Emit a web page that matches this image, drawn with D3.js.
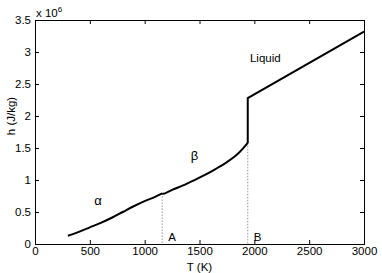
<!DOCTYPE html>
<html>
<head>
<meta charset="utf-8">
<script src="https://cdn.jsdelivr.net/npm/d3@7"></script>
<style>
  body { margin: 0; background: #fff; }
  text { font-family: "Liberation Sans", Arial, sans-serif; fill: #000; }
</style>
</head>
<body>
<div id="chart"></div>
<script>
// enthalpy vs temperature, h in units of 1e6 J/kg
var alphaT = [300, 400, 500, 600, 700, 800, 900, 1000, 1100, 1160];
var alphaH = [0.13, 0.19, 0.26, 0.33, 0.41, 0.50, 0.59, 0.67, 0.74, 0.79];
var betaT = [1160, 1175, 1250, 1350, 1450, 1550, 1650, 1750, 1850, 1940];
var betaH = [0.79, 0.785, 0.845, 0.915, 0.995, 1.08, 1.175, 1.28, 1.41, 1.58];
var liquidT = [1940, 1940, 3000];
var liquidH = [1.58, 2.28, 3.32];
var transT = [1160, 1940];
var transH = [0.79, 1.58];
var transLabels = ["A", "B"];
var phaseLabels = [
  {text: "\u03b1", T: 540, h: 0.68},
  {text: "\u03b2", T: 1420, h: 1.38},
  {text: "Liquid", T: 1960, h: 2.91}
];
var xTicks = [0, 500, 1000, 1500, 2000, 2500, 3000];
var yTicks = [0, 0.5, 1, 1.5, 2, 2.5, 3, 3.5];

var width = 382, height = 273;
var margin = {left: 35, right: 18, top: 20, bottom: 29};

var x = d3.scaleLinear().domain([0, 3000]).range([margin.left, width - margin.right]);
var y = d3.scaleLinear().domain([0, 3.5]).range([height - margin.bottom, margin.top]);

var svg = d3.select("#chart").append("svg")
  .attr("width", width)
  .attr("height", height);

var toPts = function (ts, hs) { return ts.map(function (t, i) { return [t, hs[i]]; }); };
var line = d3.line().x(d => x(d[0])).y(d => y(d[1]));

/* dotted transition lines */
svg.selectAll(".trans")
  .data(transT).enter()
  .append("line")
  .attr("x1", d => x(d)).attr("x2", d => x(d))
  .attr("y1", (d, i) => y(transH[i])).attr("y2", y(0))
  .attr("stroke", "#999")
  .attr("stroke-width", 1)
  .attr("stroke-dasharray", "1.5,1.5");

/* curves */
[toPts(alphaT, alphaH), toPts(betaT, betaH), toPts(liquidT, liquidH)].forEach(function (pts, i) {
  svg.append("path")
    .attr("d", i < 2 ? line.curve(d3.curveCatmullRom)(pts) : line.curve(d3.curveLinear)(pts))
    .attr("fill", "none")
    .attr("stroke", "#000")
    .attr("stroke-width", 2);
});

/* axes, matlab box style */
var fs = "11.5px";
svg.append("g")
  .attr("transform", `translate(0, ${y(0)})`)
  .call(d3.axisBottom(x).tickValues(xTicks).tickSize(-4).tickPadding(3).tickFormat(d3.format("d")));
svg.append("g")
  .attr("transform", `translate(0, ${y(3.5)})`)
  .call(d3.axisTop(x).tickValues(xTicks).tickSize(-4).tickFormat(""));
svg.append("g")
  .attr("transform", `translate(${x(0)}, 0)`)
  .call(d3.axisLeft(y).tickValues(yTicks).tickSize(-4).tickPadding(4).tickFormat(d3.format("")));
svg.append("g")
  .attr("transform", `translate(${x(3000)}, 0)`)
  .call(d3.axisRight(y).tickValues(yTicks).tickSize(-4).tickFormat(""));

svg.selectAll(".tick text").style("font-size", fs).attr("font-family", null);
svg.selectAll(".domain").attr("stroke", "#000");
svg.selectAll(".tick line").attr("stroke", "#000");

/* labels */
svg.append("text")
  .attr("x", (x(0) + x(3000)) / 2).attr("y", height - 2)
  .attr("text-anchor", "middle").style("font-size", fs)
  .text("T (K)");
svg.append("text")
  .attr("transform", `translate(15, ${y(2.0)}) rotate(-90)`)
  .attr("text-anchor", "middle").style("font-size", fs)
  .text("h (J/kg)");
var expo = svg.append("text")
  .attr("x", x(0) + 1).attr("y", margin.top - 3)
  .style("font-size", "11.5px");
expo.append("tspan").text("x 10");
expo.append("tspan").attr("dy", -5).style("font-size", "8px").text("6");

svg.selectAll(".phase")
  .data(phaseLabels).enter()
  .append("text")
  .attr("x", d => x(d.T)).attr("y", d => y(d.h))
  .attr("dy", "0.35em")
  .style("font-size", d => d.text === "Liquid" ? fs : "13px")
  .text(d => d.text);

svg.selectAll(".trlab")
  .data(transT).enter()
  .append("text")
  .attr("x", d => x(d) + 6).attr("y", y(0.11))
  .attr("dy", "0.35em")
  .style("font-size", fs)
  .text((d, i) => transLabels[i]);
</script>
</body>
</html>
